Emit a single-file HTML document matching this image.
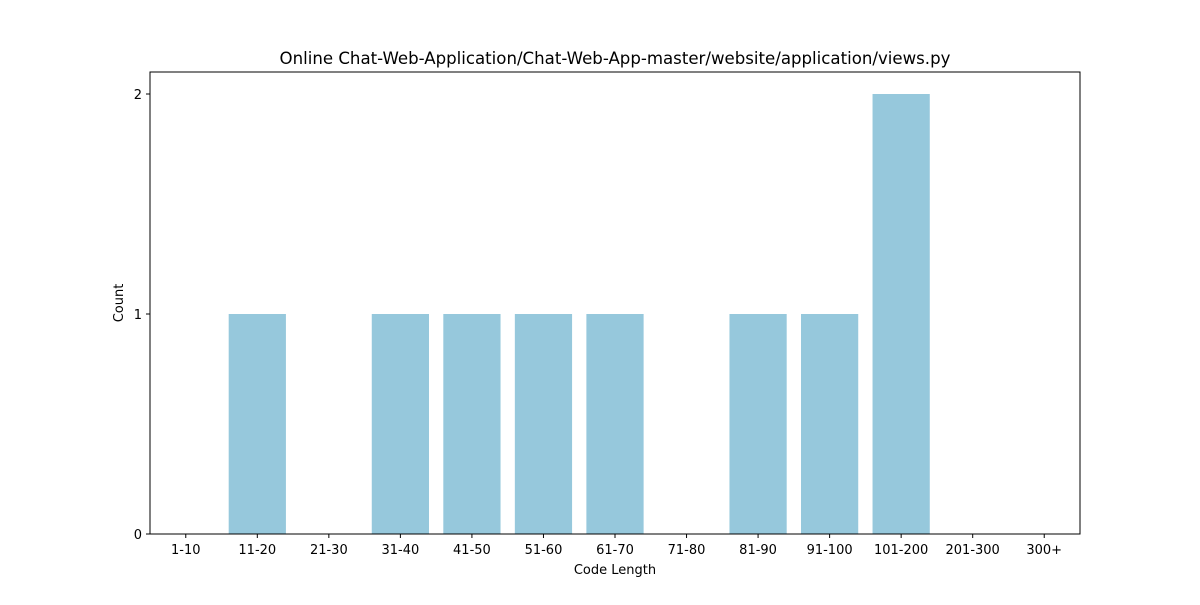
<!DOCTYPE html>
<html><head><meta charset="utf-8"><style>
body{margin:0;background:#fff;}
svg text{font-family:"DejaVu Sans","Liberation Sans",sans-serif;fill:#000;}
</style></head><body>
<svg id="chart" width="1200" height="600" xmlns="http://www.w3.org/2000/svg">
<rect width="1200" height="600" fill="#fff"/>
<text x="615" y="64" font-size="16.6" text-anchor="middle">Online Chat-Web-Application/Chat-Web-App-master/website/application/views.py</text>
<g id="bars"></g>
<g id="xticks"></g>
<g id="yticks"></g>
<rect x="150" y="72" width="930" height="462" fill="none" stroke="#000" stroke-width="1"/>
<text x="615" y="574" font-size="13" text-anchor="middle">Code Length</text>
<text transform="translate(123,303) rotate(-90)" font-size="13" text-anchor="middle">Count</text>
</svg>
<script>
const categories = ["1-10","11-20","21-30","31-40","41-50","51-60","61-70","71-80","81-90","91-100","101-200","201-300","300+"];
const counts = [0,1,0,1,1,1,1,0,1,1,2,0,0];
const yTicks = [0,1,2];
const NS="http://www.w3.org/2000/svg";
const L=150,R=1080,T=72,B=534;
const xMin=-0.5,xMax=12.5,yMin=0,yMax=2.1;
const xs=v=>L+(v-xMin)/(xMax-xMin)*(R-L);
const ys=v=>B-(v-yMin)/(yMax-yMin)*(B-T);
function mk(tag,attrs,parent){const e=document.createElementNS(NS,tag);for(const k in attrs)e.setAttribute(k,attrs[k]);parent.appendChild(e);return e;}
const bars=document.getElementById('bars'),xt=document.getElementById('xticks'),yt=document.getElementById('yticks');
categories.forEach((c,i)=>{
  const x0=xs(i-0.4),x1=xs(i+0.4),y=ys(counts[i]);
  const r=mk('rect',{x:x0,y:y,width:x1-x0,height:ys(0)-y,fill:'#96c8dc'},bars);
  
  
  const cx=xs(i);
  const tk=mk('line',{x1:cx,x2:cx,y1:B,y2:B+4,stroke:'#000'},xt);
  
  
  const t=mk('text',{x:cx,y:B+20,'font-size':13,'text-anchor':'middle'},xt);
  t.textContent=c;
  
  
});
yTicks.forEach(v=>{
  const y=ys(v);
  const tk=mk('line',{x1:L-4,x2:L,y1:y,y2:y,stroke:'#000'},yt);
  
  
  const t=mk('text',{x:L-8,y:y+5,'font-size':13,'text-anchor':'end'},yt);
  t.textContent=v;
  
  
});
</script>
</body></html>
